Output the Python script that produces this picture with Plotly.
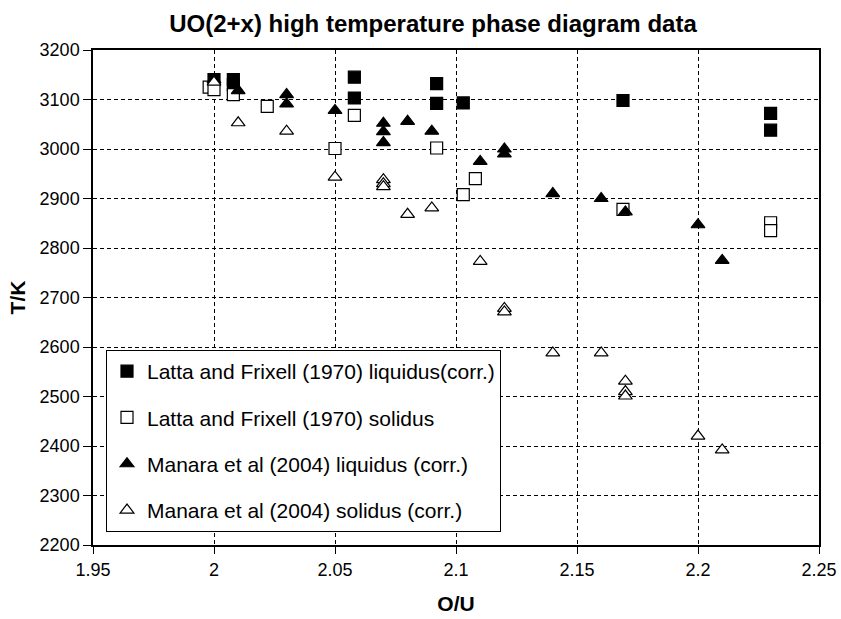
import plotly.graph_objects as go

# ---- data ----
latta_liq_x = [2.0, 2.008, 2.008, 2.058, 2.058, 2.092, 2.092, 2.103, 2.169, 2.23, 2.23]
latta_liq_T = [3140, 3140, 3130, 3145, 3103, 3132, 3092, 3093, 3098, 3072, 3038]

latta_sol_x = [1.998, 2.0, 2.008, 2.022, 2.058, 2.05, 2.092, 2.103, 2.108, 2.169, 2.23, 2.23]
latta_sol_T = [3125, 3120, 3110, 3086, 3068, 3001, 3002, 2908, 2940, 2878, 2851, 2835]

manara_liq_x = [2.0, 2.01, 2.03, 2.03, 2.05, 2.07, 2.07, 2.07, 2.08, 2.09, 2.11, 2.12, 2.12,
                2.14, 2.16, 2.17, 2.2, 2.21]
manara_liq_T = [3140, 3118, 3110, 3091, 3078, 3052, 3035, 3013, 3056, 3036, 2975, 3000, 2990,
                2910, 2900, 2873, 2847, 2775]

manara_sol_x = [2.0, 2.01, 2.03, 2.05, 2.07, 2.07, 2.07, 2.08, 2.09, 2.11, 2.12, 2.12, 2.14,
                2.16, 2.17, 2.17, 2.17, 2.2, 2.21]
manara_sol_T = [3135, 3053, 3036, 2943, 2938, 2930, 2924, 2868, 2881, 2773, 2678, 2671, 2588,
                2588, 2531, 2510, 2501, 2420, 2392]

series_names = [
    "Latta and Frixell (1970) liquidus(corr.)",
    "Latta and Frixell (1970) solidus",
    "Manara et al (2004) liquidus (corr.)",
    "Manara et al (2004) solidus (corr.)",
]

x_ticks = [1.95, 2.0, 2.05, 2.1, 2.15, 2.2, 2.25]
x_ticktext = ["1.95", "2", "2.05", "2.1", "2.15", "2.2", "2.25"]
y_ticks = [2200, 2300, 2400, 2500, 2600, 2700, 2800, 2900, 3000, 3100, 3200]

FONT = "Liberation Sans, Arial, sans-serif"

fig = go.Figure()
styles = [
    ("square", "black"),
    ("square", "white"),
    ("triangle-up", "black"),
    ("triangle-up", "white"),
]
data = [
    (latta_liq_x, latta_liq_T),
    (latta_sol_x, latta_sol_T),
    (manara_liq_x, manara_liq_T),
    (manara_sol_x, manara_sol_T),
]
for i, ((xs, ys), (sym, fill), name) in enumerate(zip(data, styles, series_names)):
    fig.add_trace(go.Scatter(
        x=xs, y=ys, mode="markers", name=name, legendgroup=f"g{i}",
        marker=dict(symbol=sym, size=12, color=fill,
                    line=dict(color="black", width=1.2)),
    ))

fig.update_layout(
    width=841, height=619,
    margin=dict(l=93, r=22, t=50, b=74),
    paper_bgcolor="white", plot_bgcolor="white",
    font=dict(family=FONT, color="black", size=18),
    title=dict(text="<b>UO(2+x) high temperature phase diagram data</b>",
               font=dict(size=24, family=FONT, color="black"),
               x=433 / 841, xref="container", xanchor="center",
               y=1 - 24 / 619, yref="container", yanchor="middle"),
    showlegend=True,
    legend=dict(x=(106 - 93) / 726, y=(545 - 350) / 495,
                xanchor="left", yanchor="top",
                bgcolor="white", bordercolor="black", borderwidth=1,
                font=dict(size=21, family=FONT, color="black"),
                tracegroupgap=16, traceorder="grouped"),
    xaxis=dict(range=[1.95, 2.25], tickvals=x_ticks, ticktext=x_ticktext,
               automargin=False,
               showgrid=True, gridcolor="black", gridwidth=1, griddash="4px,3px",
               showline=True, linecolor="black", linewidth=2, mirror=True,
               ticks="outside", ticklen=7, tickcolor="black", tickwidth=1,
               zeroline=False,
               title=dict(text="<b>O/U</b>", font=dict(size=21, family=FONT), standoff=18)),
    yaxis=dict(range=[2200, 3200], tickvals=y_ticks,
               automargin=False,
               showgrid=True, gridcolor="black", gridwidth=1, griddash="4px,3px",
               showline=True, linecolor="black", linewidth=1.5, mirror=True,
               ticks="outside", ticklen=8, tickcolor="black", tickwidth=1,
               zeroline=False,
               title=dict(text="<b>T/K</b>", font=dict(size=21, family=FONT), standoff=8)),
)

fig.write_html("out.html")
